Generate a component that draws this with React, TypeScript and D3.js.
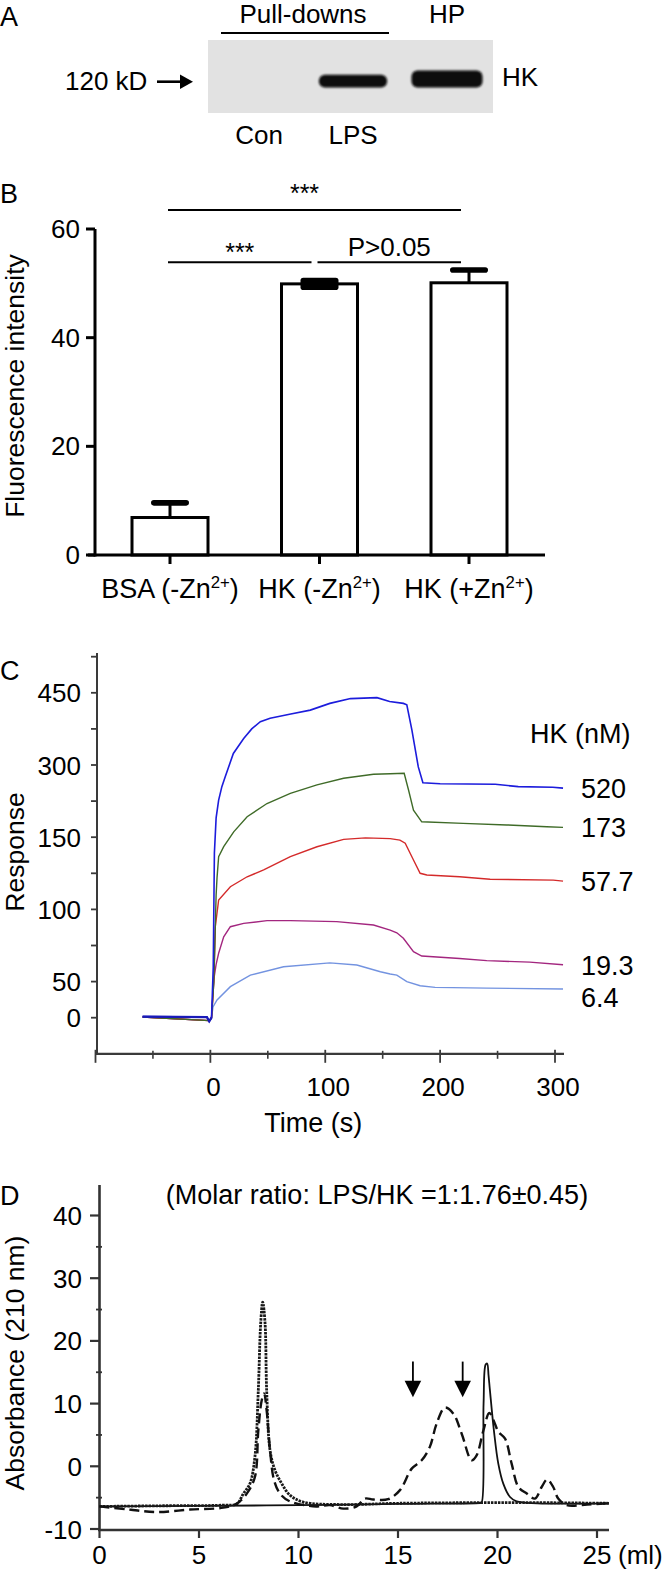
import React from 'react';
import * as d3 from 'd3';

const W = 672;
const H = 1573;
const FONT = '"Liberation Sans", Arial, Helvetica, sans-serif';

// ---------- Panel A (western blot) ----------
const blotLanes = ['Con', 'LPS', 'HP'];
const bandIntensity = [0, 0.75, 1];

// ---------- Panel B (bar chart) ----------
const bCategories = ['BSA (-Zn2+)', 'HK (-Zn2+)', 'HK (+Zn2+)'];
const bValues = [6.9, 49.9, 50.1];
const bErrors = [2.7, 0.6, 2.35];
const bTicks = [0, 20, 40, 60];
const sigFrom = [0, 0, 1];
const sigTo = [2, 1, 2];
const sigLabels = ['***', '***', 'P>0.05'];
const sigHeights = [63.5, 53.9, 53.9];

// ---------- Panel C (SPR sensorgrams) ----------
const cConcLabels = ['520', '173', '57.7', '19.3', '6.4'];
const cColors = ['#1c1cdc', '#3f6b28', '#d42a2a', '#a3267f', '#7393e0'];
const c520: [number, number][] = [
  [-59, 1.5], [-30, 1.2], [-3, 0.8], [-1, -5], [1, 0], [2.5, 60], [3.5, 139], [5, 190], [7.2, 227], [10, 255],
  [13, 276], [20, 324], [29, 355], [36, 375], [43.5, 390], [52, 397], [70, 406], [87, 414], [104, 428], [122, 438],
  [145, 440], [156, 432], [168, 428], [171, 425], [175.4, 373], [181, 296], [185, 263], [200, 261], [248, 260],
  [268, 255], [298, 253.7], [307, 252],
];
const c173: [number, number][] = [
  [-59, 1], [-1, -4], [1, 0], [3, 50], [5, 110], [5.8, 122], [7.2, 136.5], [11.6, 143.4], [20.3, 161], [32, 192.6],
  [49.3, 220], [69.6, 241], [92.8, 258.6], [116, 272.4], [142, 280.7], [156.5, 281.7], [168.7, 282.7], [172.5, 248],
  [176.8, 206], [184, 182], [220, 178.8], [258, 175.5], [292.8, 171.8], [307, 170.5],
];
const c57: [number, number][] = [
  [-59, 1], [-1, -4], [1, 0], [3, 50], [4.3, 88], [7.2, 106.5], [17.4, 115.7], [32, 122.6], [46.4, 127.3],
  [69.6, 136.5], [92.8, 143.4], [116, 148.5], [135, 149.5], [156.5, 149], [165, 148], [169.6, 145.8], [176.8, 134.2],
  [182.6, 125], [188.4, 123.8], [217, 122.6], [243.5, 120.9], [298.5, 120.3], [307, 119.6],
];
const c19: [number, number][] = [
  [-59, 1], [-1, -4], [1, 0], [2.9, 51], [5, 62], [7.2, 69.6], [11.6, 81], [17.4, 88], [29, 90.3], [49.3, 92.2],
  [69.6, 92.2], [110, 91.5], [142, 89.2], [156.5, 85.7], [162.3, 83.8], [168, 80], [176.8, 70.7], [184, 67.7],
  [217, 66], [240.6, 64.5], [278, 63.5], [307, 61.7],
];
const c6: [number, number][] = [
  [-59, 1], [-1, -4], [1, 0], [2.3, 15], [5.8, 24.5], [17.4, 43], [34.8, 54.5], [63.7, 60.3], [104, 63],
  [127.5, 61.5], [148, 56.8], [156.5, 55.3], [162.3, 54.5], [171, 50], [182.6, 44.3], [195.6, 42], [240.6, 41],
  [307, 39.7],
];
const cSeries = [c520, c173, c57, c19, c6];
const cXTicksMajor = [-100, 0, 100, 200, 300];
const cXTicksMinor = [-50, 50, 150, 250];
const cXLabels = [0, 100, 200, 300];
const cYTicks = [0, 50, 75, 100, 125, 150, 225, 300, 375, 450, 525];
const cYLabels = [0, 50, 100, 150, 300, 450];

// ---------- Panel D (gel filtration) ----------
const dDotted: [number, number][] = [
  [0, -6.4], [3, -6.3], [6.2, -6.2], [6.9, -6.0], [7.23, -4.35], [7.56, -2.76], [7.81, 1.5], [7.98, 12.1], [8.1, 22.8],
  [8.2, 26.2], [8.32, 22.8], [8.4, 12.1], [8.57, 2.55], [8.82, -0.64], [9.16, -2.76], [9.57, -4.6], [10.24, -5.7],
  [12.08, -6.1], [15, -5.9], [19, -5.8], [22, -5.8], [25.6, -5.9],
];
const dDashed: [number, number][] = [
  [0, -6.4], [1.5, -6.9], [2.87, -7.3], [4.55, -6.9], [6.22, -6.6], [6.9, -5.95], [7.4, -4.35], [7.81, -1.7],
  [7.98, 5.7], [8.15, 10.5], [8.27, 11.6], [8.4, 8.9], [8.57, 2.55], [8.77, -2.2], [9.07, -4.35], [9.57, -5.6],
  [10.9, -6.4], [11.58, -6.2], [12.25, -6.75], [12.92, -6.4], [13.34, -5.15], [13.76, -5.3], [14.5, -5.25],
  [15.1, -3.8], [15.69, -0.37], [16.19, 0.96], [16.6, 3.1], [16.94, 6.8], [17.36, 9.36], [17.78, 8.4], [18.2, 5.2],
  [18.7, 0.96], [18.95, 1.75], [19.29, 5.7], [19.59, 8.5], [19.87, 6.8], [20.04, 5.5], [20.38, 4.4], [20.71, 0.43],
  [21.05, -3.3], [21.47, -4.35], [21.88, -5.15], [22.22, -3.3], [22.5, -2.1], [22.8, -3.3], [23.05, -5.15],
  [23.48, -6.2], [24.5, -6.1], [25.55, -5.9],
];
const dSolid: [number, number][] = [
  [0, -6.4], [5, -6.3], [10, -6.2], [15, -6.0], [19.12, -5.85], [19.2, -5.8], [19.3, 10], [19.4, 16.2], [19.48, 16.4],
  [19.55, 14.5], [19.62, 12.1], [19.82, 5.7], [20.04, 0.43], [20.29, -2.76], [20.63, -4.9], [20.96, -5.6],
  [22, -5.9], [25.6, -5.9],
];
const dArrowsX = [15.75, 18.25];
const dArrowTop = 16.7;
const dArrowTip = 11;
const dXTicks = [0, 5, 10, 15, 20, 25];
const dYTicks = [-10, 0, 10, 20, 30, 40];
const dYMinor = [-5, 5, 15, 25, 35];
const dTitle = '(Molar ratio: LPS/HK =1:1.76\u00B10.45)';

function SupText({ x, y, label, size }: { x: number; y: number; label: string; size: number }) {
  const m = label.match(/^(.*?)(\d\+)(\).*)$/);
  if (!m) return <text x={x} y={y} textAnchor="middle" fontSize={size}>{label}</text>;
  const shift = size * 0.38;
  return (
    <text x={x} y={y} textAnchor="middle" fontSize={size}>
      {m[1]}
      <tspan fontSize={size * 0.62} dy={-shift}>{m[2]}</tspan>
      <tspan dy={shift}>{m[3]}</tspan>
    </text>
  );
}

export default function App() {
  // Panel A scales
  const laneX = d3.scalePoint<string>().domain(blotLanes).range([259, 447]);

  // Panel B scales
  const xB = d3.scalePoint<string>().domain(bCategories).range([170, 469]);
  const yB = d3.scaleLinear().domain([0, 60]).range([555, 229]);
  const barW = 76;

  // Panel C scales
  const xC = d3.scaleLinear().domain([-100, 300]).range([95.5, 555]);
  const yC = d3.scaleLinear()
    .domain([-50, 0, 50, 150, 450, 525])
    .range([1053.8, 1017.7, 981.6, 837.2, 692.8, 656.7]);
  const lineC = d3.line<[number, number]>().x((d) => xC(d[0])).y((d) => yC(d[1])).curve(d3.curveLinear);

  // end labels with simple collision avoidance
  const endY: number[] = [];
  cSeries.forEach((s, i) => {
    let y = yC(s[s.length - 1][1]) + 10;
    if (i > 0 && y < endY[i - 1] + 32) y = endY[i - 1] + 32;
    endY.push(y);
  });

  // Panel D scales
  const xD = d3.scaleLinear().domain([0, 25]).range([99.5, 597]);
  const yD = d3.scaleLinear().domain([-10, 40]).range([1529, 1215.5]);
  const lineD = d3.line<[number, number]>().x((d) => xD(d[0])).y((d) => yD(d[1])).curve(d3.curveCatmullRom.alpha(0.5));

  const fs = 26;

  return (
    <svg
      width={W}
      height={H}
      viewBox={`0 0 ${W} ${H}`}
      style={{ position: 'absolute', left: 0, top: 0, background: '#fff' }}
      fontFamily={FONT}
    >
      <defs>
        <filter id="bandBlur" x="-20%" y="-50%" width="140%" height="200%">
          <feGaussianBlur stdDeviation="1.3" />
        </filter>
      </defs>

      {/* ================= Panel A ================= */}
      <text x={0} y={26} fontSize={27}>A</text>
      <text x={(laneX('Con')! + laneX('LPS')!) / 2 - 3} y={23} textAnchor="middle" fontSize={fs}>Pull-downs</text>
      <line x1={221} x2={389} y1={33} y2={33} stroke="#000" strokeWidth={2.2} />
      <text x={laneX('HP')!} y={23} textAnchor="middle" fontSize={fs}>HP</text>
      <rect x={208} y={40} width={285} height={73} fill="#e2e2e2" />
      {blotLanes.map((l, i) =>
        bandIntensity[i] > 0 ? (
          <rect
            key={l}
            x={laneX(l)! - (60 + 11 * bandIntensity[i]) / 2}
            y={87.5 - 17 * bandIntensity[i]}
            width={60 + 11 * bandIntensity[i]}
            height={17 * bandIntensity[i]}
            rx={6}
            fill="#0c0c0c"
            filter="url(#bandBlur)"
          />
        ) : null
      )}
      <text x={65} y={90} fontSize={fs}>120 kD</text>
      <line x1={157} x2={182} y1={81.7} y2={81.7} stroke="#000" strokeWidth={2.6} />
      <polygon points="180,74.5 193,81.7 180,88.9" fill="#000" />
      <text x={502} y={86} fontSize={fs}>HK</text>
      {blotLanes.slice(0, 2).map((l) => (
        <text key={l} x={laneX(l)!} y={144} textAnchor="middle" fontSize={fs}>{l}</text>
      ))}

      {/* ================= Panel B ================= */}
      <text x={0} y={203} fontSize={27}>B</text>
      <text
        transform={`translate(24, ${(yB(0) + yB(60)) / 2 - 6}) rotate(-90)`}
        textAnchor="middle"
        fontSize={26.5}
      >
        Fluorescence intensity
      </text>
      {/* significance lines */}
      {sigLabels.map((lab, i) => {
        const x1 = xB(bCategories[sigFrom[i]])! - 2;
        const x2 = xB(bCategories[sigTo[i]])! - 8;
        const y = yB(sigHeights[i]);
        const isStar = lab === '***';
        return (
          <g key={i}>
            <line x1={x1} x2={x2} y1={y} y2={y} stroke="#000" strokeWidth={2} />
            <text
              x={(x1 + x2) / 2 - (sigFrom[i] === 0 && sigTo[i] === 2 ? 10 : 0)}
              y={isStar ? y - (sigTo[i] - sigFrom[i] > 1 ? 8 : 1) : y - 6}
              textAnchor="middle"
              fontSize={isStar ? 25 : 26}
            >
              {lab}
            </text>
          </g>
        );
      })}
      {/* bars */}
      {bCategories.map((c, i) => {
        const cx = xB(c)!;
        const top = yB(bValues[i]);
        const errTop = yB(bValues[i] + bErrors[i]);
        const errPx = top - errTop;
        // when the error is tiny, the caps merge into one solid block
        const capTop = errTop - 2.8;
        const capBot = errPx < 5 ? yB(bValues[i] - bErrors[i]) + 2.8 : errTop + 2.8;
        return (
          <g key={c}>
            <rect
              x={cx - barW / 2}
              y={top}
              width={barW}
              height={yB(0) - top}
              fill="#fff"
              stroke="#000"
              strokeWidth={3}
            />
            <line x1={cx} x2={cx} y1={top} y2={errTop} stroke="#000" strokeWidth={3} />
            <rect x={cx - 19} y={capTop} width={38} height={capBot - capTop} rx={2.8} fill="#000" />
          </g>
        );
      })}
      {/* axes */}
      <line x1={95} x2={95} y1={yB(60)} y2={yB(0) + 1.5} stroke="#000" strokeWidth={3} />
      <line x1={88} x2={545} y1={yB(0)} y2={yB(0)} stroke="#000" strokeWidth={3} />
      {bTicks.map((t) => (
        <g key={t}>
          <line x1={86} x2={95} y1={yB(t)} y2={yB(t)} stroke="#000" strokeWidth={3} />
          <text x={80} y={yB(t) + 9} textAnchor="end" fontSize={fs}>{t}</text>
        </g>
      ))}
      {bCategories.map((c) => (
        <g key={c}>
          <line x1={xB(c)!} x2={xB(c)!} y1={yB(0)} y2={yB(0) + 9} stroke="#000" strokeWidth={3} />
          <SupText x={xB(c)!} y={598} label={c} size={27} />
        </g>
      ))}

      {/* ================= Panel C ================= */}
      <text x={0} y={680} fontSize={27}>C</text>
      <text transform={`translate(24, 852) rotate(-90)`} textAnchor="middle" fontSize={26.5}>Response</text>
      <line x1={97} x2={97} y1={653} y2={yC(-50)} stroke="#3a3a3a" strokeWidth={2} />
      <line x1={95.5} x2={564} y1={yC(-50)} y2={yC(-50)} stroke="#3a3a3a" strokeWidth={2.2} />
      {cYTicks.map((t) => (
        <line key={t} x1={91} x2={98} y1={yC(t)} y2={yC(t)} stroke="#3a3a3a" strokeWidth={1.8} />
      ))}
      {cYLabels.map((t) => (
        <text key={t} x={81} y={yC(t) + 9.5} textAnchor="end" fontSize={fs}>{t}</text>
      ))}
      {cXTicksMajor.map((t) => (
        <line key={t} x1={xC(t)} x2={xC(t)} y1={yC(-50) - 4} y2={yC(-50) + 9} stroke="#3a3a3a" strokeWidth={1.8} />
      ))}
      {cXTicksMinor.map((t) => (
        <line key={t} x1={xC(t)} x2={xC(t)} y1={yC(-50) - 3} y2={yC(-50) + 5} stroke="#3a3a3a" strokeWidth={1.6} />
      ))}
      {cXLabels.map((t) => (
        <text key={t} x={xC(t) + 3} y={1096} textAnchor="middle" fontSize={fs}>{t}</text>
      ))}
      <text x={xC(100) - 12} y={1132} textAnchor="middle" fontSize={27}>Time (s)</text>
      {cSeries.map((s, i) => (
        <path
          key={i}
          d={lineC(s) || ''}
          fill="none"
          stroke={cColors[i]}
          strokeWidth={i === 0 ? 1.6 : 1.4}
        />
      )).reverse()}
      <path d={lineC(c520.slice(0, 5)) || ''} fill="none" stroke="#1a1ab8" strokeWidth={2.2} />
      <text x={530} y={742.7} fontSize={27}>HK (nM)</text>
      {cConcLabels.map((l, i) => (
        <text key={l} x={581} y={endY[i]} fontSize={27}>{l}</text>
      ))}

      {/* ================= Panel D ================= */}
      <text x={0} y={1205} fontSize={27}>D</text>
      <text x={377} y={1204} textAnchor="middle" fontSize={27}>{dTitle}</text>
      <text transform={`translate(24, 1363) rotate(-90)`} textAnchor="middle" fontSize={26.5}>Absorbance (210 nm)</text>
      <line x1={99.5} x2={99.5} y1={1185} y2={1531} stroke="#333" strokeWidth={2.6} />
      <line x1={98} x2={609} y1={1530} y2={1530} stroke="#333" strokeWidth={2.6} />
      {dYTicks.map((t) => (
        <g key={t}>
          <line x1={90} x2={99.5} y1={yD(t)} y2={yD(t)} stroke="#333" strokeWidth={2.2} />
          <text x={82} y={yD(t) + 9.5} textAnchor="end" fontSize={fs}>{t}</text>
        </g>
      ))}
      {dYMinor.map((t) => (
        <line key={t} x1={96} x2={102} y1={yD(t)} y2={yD(t)} stroke="#333" strokeWidth={1.8} />
      ))}
      {dXTicks.map((t) => (
        <g key={t}>
          <line x1={xD(t)} x2={xD(t)} y1={1530} y2={1538} stroke="#333" strokeWidth={2.2} />
          <text x={xD(t)} y={1564} textAnchor="middle" fontSize={fs}>{t}</text>
        </g>
      ))}
      <text x={618} y={1564} fontSize={fs}>(ml)</text>
      <path d={lineD(dSolid) || ''} fill="none" stroke="#111" strokeWidth={1.8} />
      <path d={lineD(dDotted) || ''} fill="none" stroke="#1a1a1a" strokeWidth={2.8} strokeDasharray="2.5,1" />
      <path d={lineD(dDashed) || ''} fill="none" stroke="#111" strokeWidth={2.4} strokeDasharray="10,5" />
      {dArrowsX.map((a) => (
        <g key={a}>
          <line x1={xD(a)} x2={xD(a)} y1={yD(dArrowTop)} y2={yD(dArrowTip) - 14} stroke="#000" strokeWidth={1.8} />
          <polygon
            points={`${xD(a) - 8.3},${yD(dArrowTip) - 16.5} ${xD(a) + 8.3},${yD(dArrowTip) - 16.5} ${xD(a)},${yD(dArrowTip)}`}
            fill="#000"
          />
        </g>
      ))}
    </svg>
  );
}
